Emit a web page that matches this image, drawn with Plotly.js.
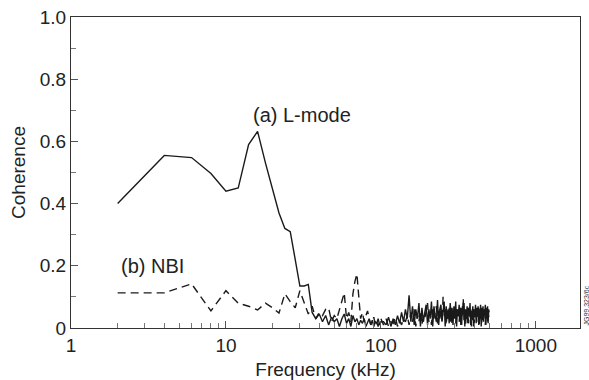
<!DOCTYPE html>
<html>
<head>
<meta charset="utf-8">
<script src="https://cdn.plot.ly/plotly-3.0.1.min.js"></script>
<style>html,body{margin:0;padding:0;background:#fff;}#chart{width:589px;height:380px;}</style>
</head>
<body>
<div id="chart"></div>
<script>
// Frequencies (kHz)
const freqLow = [2,4,6,8,10,12,14,16,18,20,22,24,26,28,30,32,34,36,38,40,42,44,46,48,50,52,54,56,58,60,62,64,66,68,70,72,74,76,78,80,82,84,86,88,90,92,94,96,98,100];
const freqHigh = [104,108,112,116,120,124,128,132,136,140,144,148,152,156,160,164,168,172,176,180,184,188,192,196,200,204,208,212,216,220,224,228,232,236,240,244,248,252,256,260,264,268,272,276,280,284,288,292,296,300,304,308,312,316,320,324,328,332,336,340,344,348,352,356,360,364,368,372,376,380,384,388,392,396,400,404,408,412,416,420,424,428,432,436,440,444,448,452,456,460,464,468,472,476,480,484,488,492,496,500];

// (a) L-mode coherence
const lmodeLow = [0.40,0.555,0.548,0.497,0.44,0.45,0.59,0.632,0.53,0.45,0.37,0.32,0.31,0.22,0.135,0.135,0.14,0.05,0.03,0.045,0.02,0.04,0.01,0.035,0.02,0.03,0.005,0.03,0.045,0.015,0.03,0.005,0.04,0.02,0.03,0.01,0.025,0.015,0.03,0.005,0.02,0.03,0.01,0.025,0.005,0.02,0.015,0.03,0.01,0.02];
const lmodeHigh = [0.02,0.01,0.035,0.005,0.03,0.01,0.04,0.015,0.05,0.02,0.06,0.03,0.105,0.02,0.07,0.01,0.06,0.03,0.08,0.005,0.065,0.02,0.05,0.075,0.01,0.06,0.03,0.085,0.005,0.07,0.04,0.02,0.09,0.01,0.06,0.075,0.02,0.05,0.085,0.005,0.07,0.03,0.06,0.015,0.08,0.04,0.065,0.01,0.07,0.03,0.085,0.005,0.06,0.04,0.075,0.02,0.065,0.01,0.07,0.045,0.08,0.005,0.06,0.03,0.07,0.015,0.065,0.04,0.08,0.01,0.055,0.03,0.07,0.005,0.06,0.035,0.075,0.015,0.065,0.04,0.07,0.01,0.06,0.03,0.075,0.005,0.065,0.035,0.07,0.02,0.06,0.045,0.075,0.01,0.065,0.03,0.07,0.015,0.06,0.05];

// (b) NBI coherence
const nbiLow = [0.113,0.113,0.142,0.055,0.12,0.08,0.07,0.058,0.08,0.065,0.048,0.11,0.085,0.065,0.12,0.08,0.045,0.07,0.03,0.05,0.04,0.06,0.065,0.02,0.04,0.03,0.06,0.09,0.113,0.03,0.05,0.02,0.11,0.15,0.174,0.1,0.03,0.05,0.02,0.04,0.055,0.03,0.01,0.02,0.035,0.01,0.02,0.005,0.015,0.03];
const nbiHigh = [0.01,0.03,0.005,0.02,0.015,0.035,0.005,0.025,0.01,0.03,0.02,0.04,0.01,0.05,0.02,0.06,0.005,0.045,0.02,0.055,0.01,0.04,0.03,0.06,0.08,0.02,0.05,0.01,0.06,0.03,0.05,0.07,0.015,0.055,0.03,0.06,0.02,0.1,0.04,0.06,0.01,0.05,0.03,0.065,0.02,0.05,0.01,0.06,0.035,0.055,0.015,0.06,0.03,0.05,0.02,0.065,0.01,0.05,0.04,0.095,0.02,0.06,0.01,0.05,0.03,0.065,0.015,0.05,0.035,0.06,0.005,0.05,0.025,0.06,0.01,0.055,0.03,0.06,0.02,0.05,0.035,0.065,0.01,0.05,0.03,0.055,0.015,0.06,0.025,0.05,0.04,0.06,0.01,0.055,0.03,0.05,0.02,0.06,0.035,0.04];

const xMajor = [1,10,100,1000];
const xMajorText = ['1','10','100','1000'];
const xMinor = [2,3,4,5,6,7,8,9,20,30,40,50,60,70,80,90,200,300,400,500,600,700,800,900];
const yMajor = [0,0.2,0.4,0.6,0.8,1.0];
const yMajorText = ['0','0.2','0.4','0.6','0.8','1.0'];
const yMinor = [0.1,0.3,0.5,0.7,0.9];

const freq = freqLow.concat(freqHigh);
const lmode = lmodeLow.concat(lmodeHigh);
const nbi = nbiLow.concat(nbiHigh);

const fam = 'Liberation Sans, Arial, sans-serif';
const font = {family: fam, size: 19, color: '#222'};
const annFont = {family: fam, size: 20, color: '#222'};

const traces = [
  {x: freq, y: nbi, type: 'scatter', mode: 'lines', name: '(b) NBI',
   line: {color: '#1a1a1a', width: 1.4, dash: '8px,5px'}},
  {x: freq, y: lmode, type: 'scatter', mode: 'lines', name: '(a) L-mode',
   line: {color: '#1a1a1a', width: 1.4}}
];

const layout = {
  width: 589, height: 380,
  margin: {l: 71, r: 9, t: 17, b: 52},
  paper_bgcolor: '#fff', plot_bgcolor: '#fff',
  showlegend: false,
  font: font,
  xaxis: {
    type: 'log', range: [0, 3.285],
    tickmode: 'array', tickvals: xMajor, ticktext: xMajorText,
    ticks: 'inside', ticklen: 7, tickwidth: 1, tickcolor: '#555',
    minor: {tickmode: 'array', tickvals: xMinor, ticks: 'inside', ticklen: 5, tickwidth: 1, tickcolor: '#777'},
    showline: true, linecolor: '#333', linewidth: 1, mirror: true,
    showgrid: false, zeroline: false,
    tickfont: font,
    title: {text: 'Frequency (kHz)', font: font, standoff: 7}
  },
  yaxis: {
    range: [0, 1.0],
    tickmode: 'array', tickvals: yMajor, ticktext: yMajorText,
    ticks: 'inside', ticklen: 7, tickwidth: 1, tickcolor: '#555',
    minor: {tickmode: 'array', tickvals: yMinor, ticks: 'inside', ticklen: 5, tickwidth: 1, tickcolor: '#777'},
    showline: true, linecolor: '#333', linewidth: 1, mirror: true,
    showgrid: false, zeroline: false,
    tickfont: font,
    title: {text: 'Coherence', font: font, standoff: 9}
  },
  annotations: [
    {x: Math.log10(14.5), y: 0.684, xref: 'x', yref: 'y', xanchor: 'left', yanchor: 'middle',
     text: '(a) L-mode', showarrow: false, font: annFont},
    {x: Math.log10(2.05), y: 0.2, xref: 'x', yref: 'y', xanchor: 'left', yanchor: 'middle',
     text: '(b) NBI', showarrow: false, font: annFont},
    {x: 1, y: 0, xref: 'paper', yref: 'paper', xanchor: 'left', yanchor: 'bottom', xshift: 0,
     text: 'JG99.323/6c', textangle: -90, showarrow: false,
     font: {family: fam, size: 7, color: '#333'}}
  ]
};

Plotly.newPlot('chart', traces, layout, {displayModeBar: false, staticPlot: true});
</script>
</body>
</html>
